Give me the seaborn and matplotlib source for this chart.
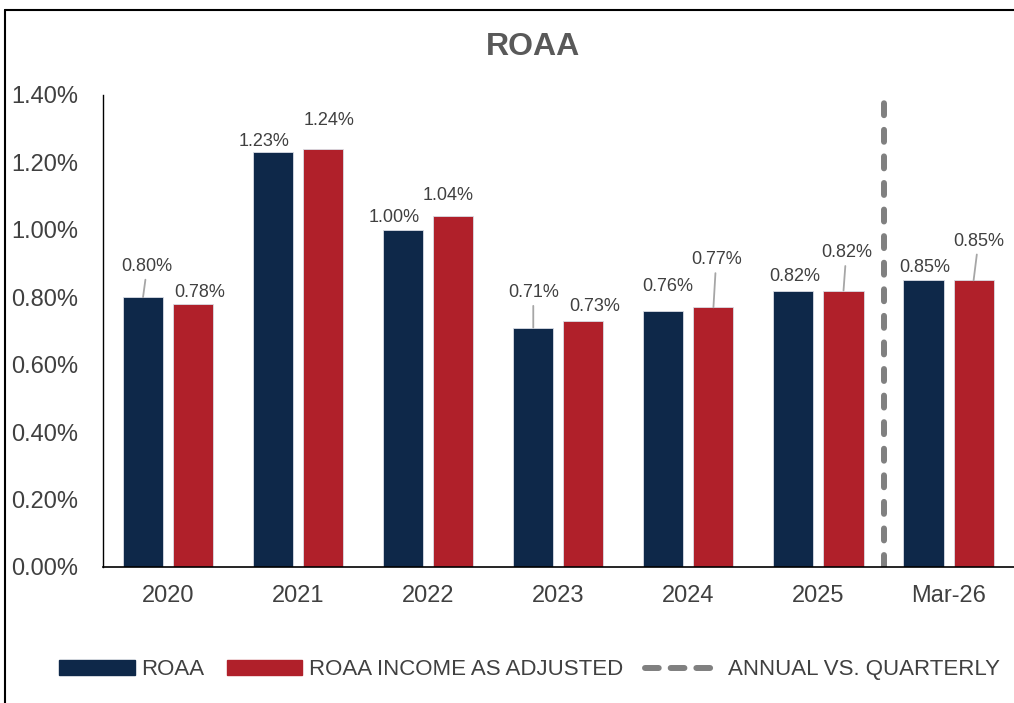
"""ROAA bar chart, annual vs quarterly."""

import matplotlib.pyplot as plt
import matplotlib.patches as mpatches
from matplotlib.lines import Line2D
from matplotlib.ticker import PercentFormatter
import pandas as pd
import seaborn as sns

# -----------------------------------------------------------#
#                           DATA                            #
# -----------------------------------------------------------#

periods = ["2020", "2021", "2022", "2023", "2024", "2025", "Mar-26"]
roaa = [0.80, 1.23, 1.00, 0.71, 0.76, 0.82, 0.85]
roaa_adjusted = [0.78, 1.24, 1.04, 0.73, 0.77, 0.82, 0.85]
series_names = ["ROAA", "ROAA INCOME AS ADJUSTED"]
divider_label = "ANNUAL VS. QUARTERLY"

# label offsets in points (dx, dy) and whether a leader line is drawn
roaa_offsets = [(3, 16), (-6.5, 2), (-6.5, 3), (0, 19), (3.5, 11), (1, 4), (1, 3)]
roaa_leader = [True, False, False, True, False, False, False]
adj_offsets = [(5, 2), (4, 14), (-3.5, 9), (8, 4), (2, 28), (2, 21), (3.5, 22)]
adj_leader = [False, False, False, False, True, True, True]

NAVY = "#0E2849"
RED = "#B0202A"
GREY = "#808080"
TEXT = "#404040"

df = pd.DataFrame(
    {
        "period": periods * 2,
        "value": roaa + roaa_adjusted,
        "series": [series_names[0]] * len(periods) + [series_names[1]] * len(periods),
    }
)

sns.set_style("white")
plt.rcParams["font.family"] = ["Liberation Sans", "DejaVu Sans"]

fig = plt.figure(figsize=(10.14, 7.03), dpi=100)
ax = fig.add_axes([0.1016, 0.1935, 0.898, 0.6714])

sns.barplot(
    data=df,
    x="period",
    y="value",
    hue="series",
    palette=[NAVY, RED],
    saturation=1,
    width=0.77,
    gap=0.2,
    edgecolor="#d9dde5",
    linewidth=0.6,
    legend=False,
    ax=ax,
)

ax.axvline(5.5, ymin=0, ymax=0.985, color=GREY, lw=4.3, dashes=(2.0, 2.45),
           dash_capstyle="round")

ax.set_ylim(0, 1.4)
ax.set_xlim(-0.5, 6.5)
ax.set_yticks([0, 0.2, 0.4, 0.6, 0.8, 1.0, 1.2, 1.4])
ax.yaxis.set_major_formatter(PercentFormatter(decimals=2))
ax.tick_params(axis="y", length=0, pad=18, labelsize=17, labelcolor=TEXT)
ax.tick_params(axis="x", length=0, pad=13, labelsize=17, labelcolor=TEXT)
ax.set_xlabel("")
ax.set_ylabel("")
for side in ["top", "right"]:
    ax.spines[side].set_visible(False)
ax.spines["left"].set_color("black")
ax.spines["bottom"].set_color("black")
ax.spines["left"].set_linewidth(1.0)
ax.spines["bottom"].set_linewidth(1.2)

# data labels
bars = ax.patches
n = len(periods)
for i in range(n):
    for bar, val, off, lead in [
        (bars[i], roaa[i], roaa_offsets[i], roaa_leader[i]),
        (bars[n + i], roaa_adjusted[i], adj_offsets[i], adj_leader[i]),
    ]:
        x = bar.get_x() + bar.get_width() / 2
        ax.annotate(
            f"{val:.2f}%",
            xy=(x, val),
            xytext=off,
            textcoords="offset points",
            ha="center",
            va="bottom",
            fontsize=13,
            color=TEXT,
            arrowprops=dict(arrowstyle="-", color="#a6a6a6", lw=1.3,
                            shrinkA=1, shrinkB=0) if lead else None,
        )

fig.text(0.526, 0.933, "ROAA", ha="center", va="center", fontsize=23,
         fontweight="bold", color="#595959")

handles = [
    mpatches.Patch(color=NAVY, label=series_names[0]),
    mpatches.Patch(color=RED, label=series_names[1]),
    Line2D([0], [0], color=GREY, lw=4.3, dashes=(2.3, 2.0),
           dash_capstyle="round", label=divider_label),
]
fig.legend(
    handles=handles,
    loc="center",
    bbox_to_anchor=(0.522, 0.047),
    ncol=3,
    frameon=False,
    fontsize=16,
    labelcolor=TEXT,
    handlelength=3.4,
    handleheight=0.65,
    handletextpad=0.3,
    columnspacing=1.0,
)

# outer border (top and left visible)
fig.add_artist(Line2D([5 / 1014, 5 / 1014], [0, 1 - 10 / 703], color="black",
                      lw=1.5, transform=fig.transFigure))
fig.add_artist(Line2D([5 / 1014, 1], [1 - 10 / 703, 1 - 10 / 703], color="black",
                      lw=1.5, transform=fig.transFigure))

fig.savefig("out.png", dpi=100)
